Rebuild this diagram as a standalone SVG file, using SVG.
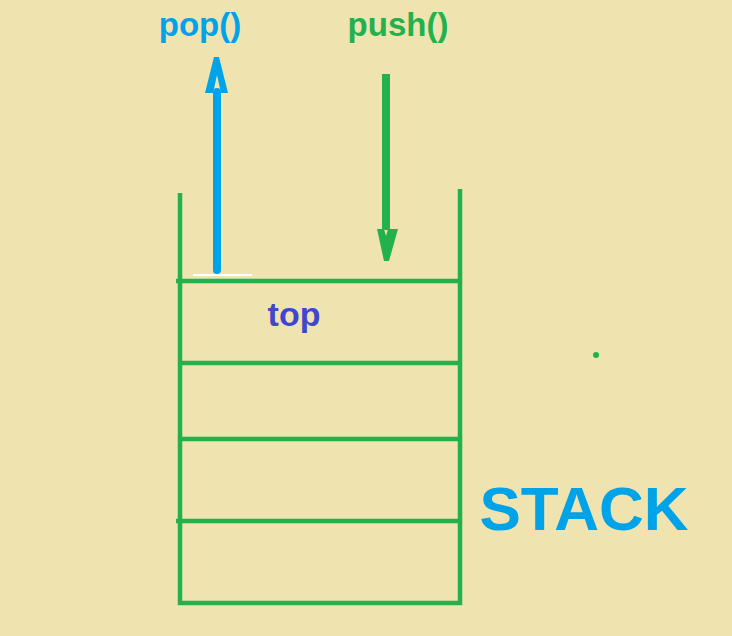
<svg xmlns="http://www.w3.org/2000/svg" width="732" height="636" viewBox="0 0 732 636">
<style>
.g{stroke:#22B14C;stroke-width:4.5;fill:none}
.t{font-family:"Liberation Sans",Arial,sans-serif;font-weight:bold}
</style>
<rect width="732" height="636" fill="#EFE4B0"/>
<g id="stack">
<path class="g" d="M180 193V603H460V189"/>
<path class="g" d="M176 281H460M180 363H460M180 439H460M176 521H460"/>
<line x1="193" y1="275" x2="252" y2="275" stroke="#fff" stroke-width="2"/>
<circle cx="596" cy="355" r="3" fill="#22B14C"/>
</g>
<g id="connectors">
<g id="pop-arrow">
<line x1="217" y1="92" x2="217" y2="270" stroke="#00A2E8" stroke-width="8" stroke-linecap="round"/>
<path d="M205 93L214 57H219L228 93H221L217 75L213 93Z" fill="#00A2E8"/>
</g>
<g id="push-arrow">
<line x1="386" y1="74" x2="386" y2="230" stroke="#22B14C" stroke-width="8"/>
<path d="M377 229H398L389 261H384Z M384 229L386 236L388 229Z" fill="#22B14C"/>
</g>
</g>
<g id="labels">
<text class="t" x="200" y="36" font-size="33" fill="#00A2E8" text-anchor="middle">pop()</text>
<text class="t" x="398" y="36" font-size="33" fill="#22B14C" text-anchor="middle">push()</text>
<text class="t" x="294" y="326" font-size="34" fill="#3F48CC" text-anchor="middle">top</text>
<text class="t" x="584" y="530" font-size="62" fill="#00A2E8" text-anchor="middle">STACK</text>
</g>
</svg>
